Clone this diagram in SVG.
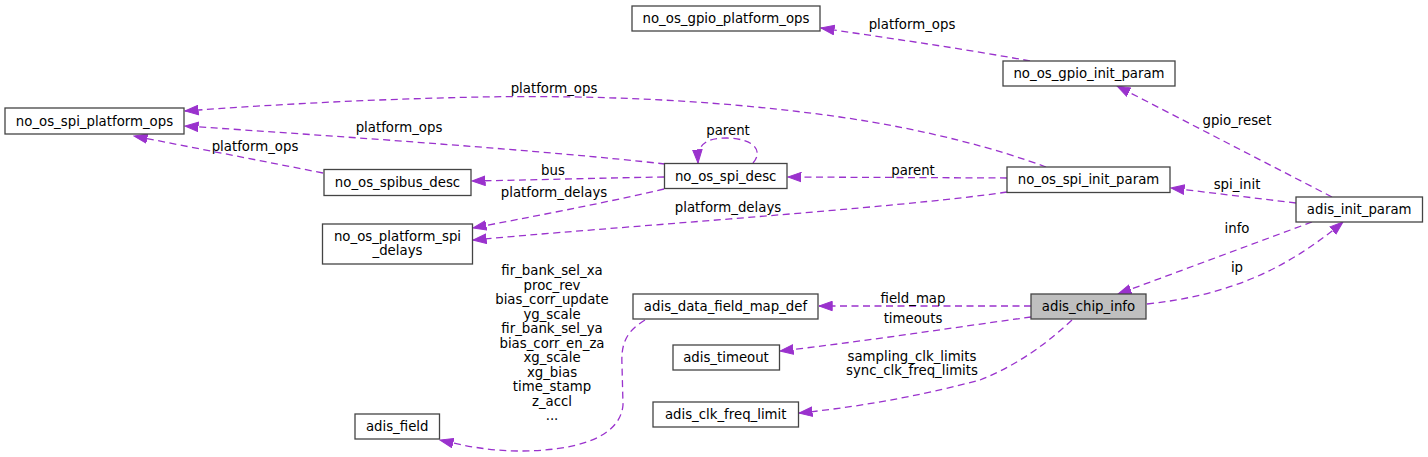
<svg xmlns="http://www.w3.org/2000/svg" width="1428" height="457" viewBox="0 0 1428 457">
<style>
.node rect{fill:#ffffff;stroke:#444444;stroke-width:1.3}
.node.hl rect{fill:#bfbfbf}
text{font-family:"DejaVu Sans","Liberation Sans",sans-serif;font-size:13.3px;fill:#000;text-anchor:middle}
.edge path{fill:none;stroke:#9a32cd;stroke-width:1.3;stroke-dasharray:7,4.5}
</style>
<defs>
<marker id="ah" markerUnits="userSpaceOnUse" markerWidth="15" markerHeight="11" viewBox="0 0 15 11" refX="13.5" refY="5.5" orient="auto">
<path d="M0.3,0.8 L13.5,5.5 L0.3,10.2 z" fill="#9a32cd" stroke="#9a32cd" stroke-width="1"/>
</marker>
</defs>
<rect width="1428" height="457" fill="#ffffff"/>
<g id="edges" class="edge">
<path d="M1030,61 C960,48 880,37 821,28" marker-end="url(#ah)"/>
<path d="M1046,167 C1000,150 930,130 840,117 C720,100 600,95 480,97 C380,99 280,104 185,111" marker-end="url(#ah)"/>
<path d="M665,164 C550,151 350,137 185,126" marker-end="url(#ah)"/>
<path d="M323,173 L134,136" marker-end="url(#ah)"/>
<path d="M753,163 C762,153 758,139 727,138 C707,138 697,143 698,163" marker-end="url(#ah)"/>
<path d="M664,177 C600,178 530,180 472,181" marker-end="url(#ah)"/>
<path d="M664,189 C600,204 530,217 473,228" marker-end="url(#ah)"/>
<path d="M1007,178 L788,177" marker-end="url(#ah)"/>
<path d="M1007,192 C900,208 600,228 473,240" marker-end="url(#ah)"/>
<path d="M1332,197 L1117,86" marker-end="url(#ah)"/>
<path d="M1296,203 L1171,188" marker-end="url(#ah)"/>
<path d="M1312,222 L1118,294" marker-end="url(#ah)"/>
<path d="M1147,304 C1220,296 1280,275 1343,222" marker-end="url(#ah)"/>
<path d="M1031,306 L819,306" marker-end="url(#ah)"/>
<path d="M1031,317 C950,328 860,342 780,351" marker-end="url(#ah)"/>
<path d="M1072,320 C1040,350 1010,368 980,380 C935,392 870,406 799,413" marker-end="url(#ah)"/>
<path d="M645,320 C625,332 621,345 622,365 L623,405 C620,440 570,451 520,451 C490,451 465,446 440,440" marker-end="url(#ah)"/>
</g>
<g id="edge-labels">
<text x="912" y="28.5">platform_ops</text>
<text x="554" y="92.5">platform_ops</text>
<text x="399" y="131.5">platform_ops</text>
<text x="255" y="151">platform_ops</text>
<text x="728" y="135">parent</text>
<text x="553" y="175">bus</text>
<text x="554" y="197">platform_delays</text>
<text x="913" y="175">parent</text>
<text x="728" y="211.5">platform_delays</text>
<text x="1237" y="124.5">gpio_reset</text>
<text x="1237" y="188.5">spi_init</text>
<text x="1237" y="232.5">info</text>
<text x="1237" y="271.5">ip</text>
<text x="913" y="302.5">field_map</text>
<text x="913" y="322.5">timeouts</text>
<text x="912" y="360.5">sampling_clk_limits</text>
<text x="912" y="375">sync_clk_freq_limits</text>
<text x="552" y="275">fir_bank_sel_xa</text>
<text x="552" y="289.5">proc_rev</text>
<text x="552" y="304">bias_corr_update</text>
<text x="552" y="318.5">yg_scale</text>
<text x="552" y="333">fir_bank_sel_ya</text>
<text x="552" y="347.5">bias_corr_en_za</text>
<text x="552" y="362">xg_scale</text>
<text x="552" y="376.5">xg_bias</text>
<text x="552" y="391">time_stamp</text>
<text x="552" y="405.5">z_accl</text>
<text x="552" y="420">...</text>
</g>
<g id="no_os_spi_platform_ops" class="node"><rect x="5" y="108" width="179" height="26"/><text x="94.5" y="125.5">no_os_spi_platform_ops</text></g>
<g id="no_os_gpio_platform_ops" class="node"><rect x="632" y="6" width="188" height="25"/><text x="726" y="23">no_os_gpio_platform_ops</text></g>
<g id="no_os_gpio_init_param" class="node"><rect x="1003" y="61" width="172" height="25"/><text x="1089" y="78">no_os_gpio_init_param</text></g>
<g id="no_os_spibus_desc" class="node"><rect x="324" y="169.5" width="147" height="26"/><text x="397.5" y="187">no_os_spibus_desc</text></g>
<g id="no_os_platform_spi_delays" class="node"><rect x="322.5" y="224" width="150" height="40"/><text x="397.5" y="240.5">no_os_platform_spi</text><text x="397.5" y="255">_delays</text></g>
<g id="no_os_spi_desc" class="node"><rect x="664.5" y="163.5" width="122.5" height="25"/><text x="725.7" y="180.5">no_os_spi_desc</text></g>
<g id="no_os_spi_init_param" class="node"><rect x="1007" y="167" width="163" height="25.5"/><text x="1088.5" y="184.3">no_os_spi_init_param</text></g>
<g id="adis_init_param" class="node"><rect x="1296" y="197" width="126.5" height="25"/><text x="1359.2" y="214">adis_init_param</text></g>
<g id="adis_chip_info" class="node hl"><rect x="1031" y="294" width="115" height="25"/><text x="1088.5" y="311">adis_chip_info</text></g>
<g id="adis_data_field_map_def" class="node"><rect x="633" y="294" width="185" height="25"/><text x="725.5" y="311">adis_data_field_map_def</text></g>
<g id="adis_timeout" class="node"><rect x="673" y="345" width="106.5" height="25"/><text x="726" y="362">adis_timeout</text></g>
<g id="adis_clk_freq_limit" class="node"><rect x="653" y="402" width="145.5" height="25"/><text x="725.7" y="419">adis_clk_freq_limit</text></g>
<g id="adis_field" class="node"><rect x="355" y="414" width="84.5" height="25"/><text x="397.2" y="431">adis_field</text></g>
</svg>
